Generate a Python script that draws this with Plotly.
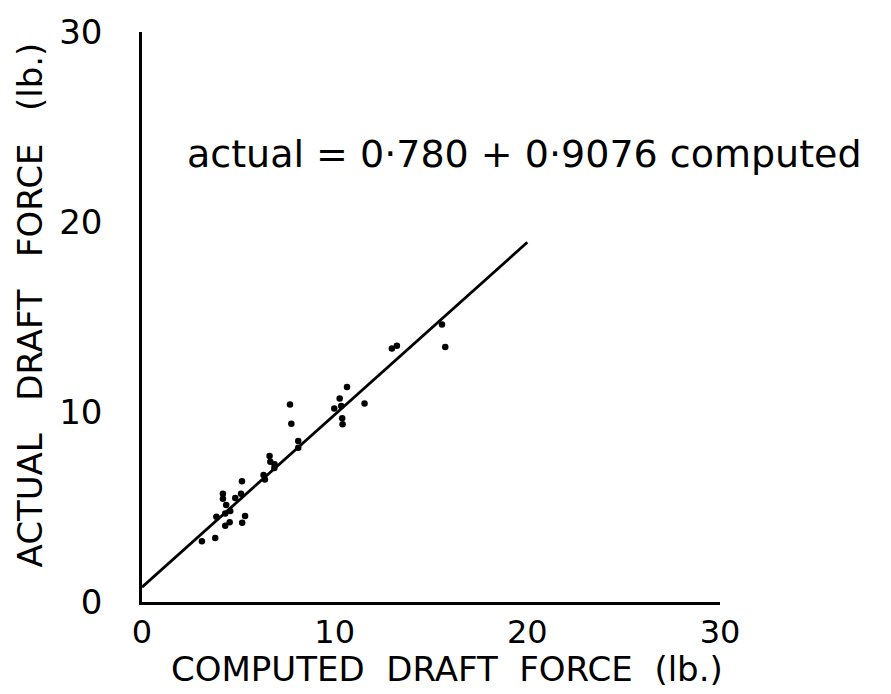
import plotly.graph_objects as go

# Measured draft force (lb.): computed vs. actual
computed = [3.11, 3.80, 3.86, 4.32, 4.58, 4.32, 4.55, 5.20, 5.35, 4.20,
            4.20, 4.37, 4.84, 5.14, 5.19, 6.31, 6.38, 6.62, 6.66, 6.88,
            6.87, 7.68, 7.75, 8.11, 8.11, 9.98, 10.26, 10.34, 10.39, 10.41,
            10.64, 11.55, 12.97, 13.23, 15.57, 15.74]
actual = [3.20, 3.37, 4.49, 4.66, 4.79, 4.01, 4.20, 4.17, 4.53, 5.70,
          5.44, 5.10, 5.48, 5.70, 6.36, 6.68, 6.45, 7.69, 7.38, 7.25,
          7.05, 10.40, 9.38, 8.12, 8.47, 10.19, 10.71, 10.31, 9.67, 9.35,
          11.32, 10.45, 13.34, 13.49, 14.60, 13.42]

# Fitted regression: actual = a + b * computed
intercept = 0.780
slope = 0.9076
fit_x = [0, 20]
fit_y = [intercept + slope * v for v in fit_x]

tick_vals = [0, 10, 20, 30]
tick_text = ["0", "10", "20", "30"]

FONT = "DejaVu Sans, sans-serif"

fig = go.Figure()
fig.add_trace(go.Scatter(
    x=fit_x, y=fit_y, mode="lines",
    line=dict(color="black", width=2.8),
    showlegend=False, hoverinfo="skip",
))
fig.add_trace(go.Scatter(
    x=computed, y=actual, mode="markers",
    marker=dict(color="black", size=6.5),
    showlegend=False,
))

axis_common = dict(
    range=[0, 30], showgrid=False, zeroline=False,
    showline=True, linecolor="black", linewidth=2.5,
    ticks="", tickvals=tick_vals, ticktext=tick_text,
    ticklabeloverflow="allow",
)

fig.update_layout(
    width=891, height=694,
    margin=dict(l=142, r=171, t=23, b=92),
    paper_bgcolor="white", plot_bgcolor="white",
    xaxis=dict(**axis_common, ticklabelstandoff=0,
               tickfont=dict(family=FONT, size=32, color="black")),
    yaxis=dict(**axis_common, ticklabelstandoff=30,
               tickfont=dict(family=FONT, size=34, color="black")),
    font=dict(family=FONT, color="black"),
    annotations=[
        dict(text="actual = 0·780 + 0·9076 computed",
             x=0.662, y=0.786, xref="paper", yref="paper",
             xanchor="center", yanchor="middle",
             showarrow=False, font=dict(family=FONT, size=38, color="black")),
        dict(text="COMPUTED  DRAFT  FORCE  (lb.)",
             x=0.528, y=-0.118, xref="paper", yref="paper",
             xanchor="center", yanchor="middle",
             showarrow=False, font=dict(family=FONT, size=34, color="black")),
        dict(text="ACTUAL   DRAFT   FORCE   (lb.)",
             x=-0.193, y=0.521, xref="paper", yref="paper", textangle=-90,
             xanchor="center", yanchor="middle",
             showarrow=False, font=dict(family=FONT, size=34, color="black")),
    ],
)

fig.write_html("out.html")
